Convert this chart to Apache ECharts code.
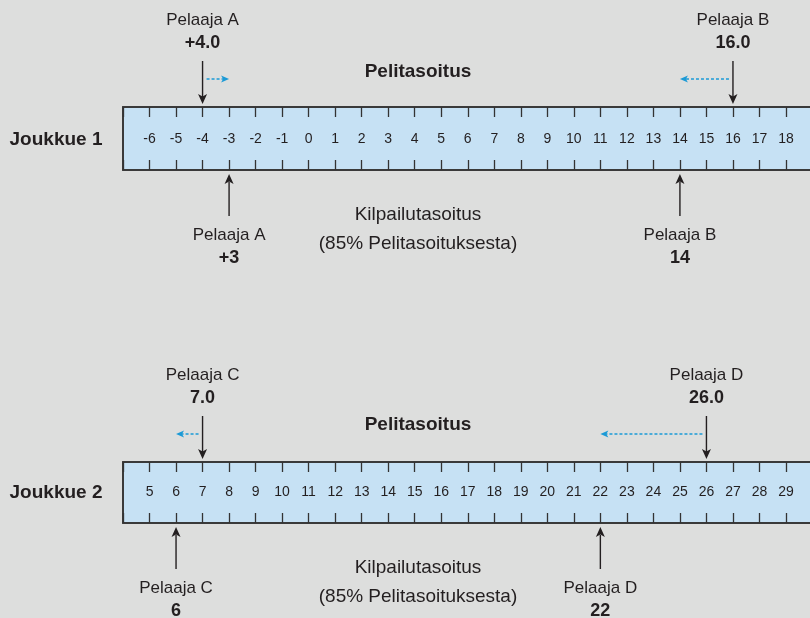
<!DOCTYPE html>
<html>
<head>
<meta charset="utf-8">
<script src="https://cdn.jsdelivr.net/npm/echarts@6/dist/echarts.min.js"></script>
<style>
html,body{margin:0;padding:0;background:#dddedd;overflow:hidden;width:810px;height:618px;}
#c{width:850px;height:618px;}
</style>
</head>
<body>
<div id="c"></div>
<script>
// ---- data ----
const teams = ['Joukkue 1', 'Joukkue 2'];
const axisMin = [-7, 4];
const axisMax = [20.3, 31.3];
const tickLabels1 = [-6,-5,-4,-3,-2,-1,0,1,2,3,4,5,6,7,8,9,10,11,12,13,14,15,16,17,18];
const tickLabels2 = [5,6,7,8,9,10,11,12,13,14,15,16,17,18,19,20,21,22,23,24,25,26,27,28,29];
const players1 = ['Pelaaja A', 'Pelaaja B'];
const players2 = ['Pelaaja C', 'Pelaaja D'];
const playingPos1 = [-4, 16];
const playingText1 = ['+4.0', '16.0'];
const compPos1 = [-3, 14];
const compText1 = ['+3', '14'];
const playingPos2 = [7, 26];
const playingText2 = ['7.0', '26.0'];
const compPos2 = [6, 22];
const compText2 = ['6', '22'];
const topTitle = 'Pelitasoitus';
const bottomTitle1 = 'Kilpailutasoitus';
const bottomTitle2 = '(85% Pelitasoituksesta)';

// ---- style ----
const FONT = '"Liberation Sans", Arial, sans-serif';
const TXT = '#231f20';
const BLUE = '#1b9ad6';
const BAND = '#c6e1f4';
const EDGE = '#3a3a3a';

const chart = echarts.init(document.getElementById('c'), null, {renderer: 'canvas'});

function topItem(names, texts) {
  return function (params, api) {
    const i = params.dataIndex;
    const p = api.coord([api.value(0), 1]);
    const x = p[0], yT = p[1];
    const xc = api.coord([api.value(1), 1])[0];
    const dir = xc > x ? 1 : -1;
    const yd = yT - 28;
    return {
      type: 'group',
      children: [
        {type: 'text', style: {x: x, y: yT - 87, text: names[i], font: '17px ' + FONT, fill: TXT, align: 'center', verticalAlign: 'middle'}},
        {type: 'text', style: {x: x, y: yT - 64, text: texts[i], font: 'bold 18px ' + FONT, fill: TXT, align: 'center', verticalAlign: 'middle'}},
        {type: 'line', shape: {x1: x, y1: yT - 46, x2: x, y2: yT - 10}, style: {stroke: TXT, lineWidth: 1.4}},
        {type: 'polygon', shape: {points: [[x, yT - 3], [x - 4.5, yT - 13], [x, yT - 10.5], [x + 4.5, yT - 13]]}, style: {fill: TXT}},
        {type: 'line', shape: {x1: x + dir * 4, y1: yd, x2: xc - dir * 5, y2: yd}, style: {stroke: BLUE, lineWidth: 1.3, lineDash: [3, 2]}},
        {type: 'polygon', shape: {points: [[xc, yd], [xc - dir * 8, yd - 3.5], [xc - dir * 6, yd], [xc - dir * 8, yd + 3.5]]}, style: {fill: BLUE}}
      ]
    };
  };
}
function bottomItem(names, texts) {
  return function (params, api) {
    const i = params.dataIndex;
    const p = api.coord([api.value(0), 0]);
    const x = p[0], yB = p[1];
    return {
      type: 'group',
      children: [
        {type: 'line', shape: {x1: x, y1: yB + 12, x2: x, y2: yB + 46}, style: {stroke: TXT, lineWidth: 1.4}},
        {type: 'polygon', shape: {points: [[x, yB + 4], [x - 4.5, yB + 14], [x, yB + 11.5], [x + 4.5, yB + 14]]}, style: {fill: TXT}},
        {type: 'text', style: {x: x, y: yB + 65, text: names[i], font: '17px ' + FONT, fill: TXT, align: 'center', verticalAlign: 'middle'}},
        {type: 'text', style: {x: x, y: yB + 88, text: texts[i], font: 'bold 18px ' + FONT, fill: TXT, align: 'center', verticalAlign: 'middle'}}
      ]
    };
  };
}

const grids = [
  {left: 123, top: 107, height: 63, right: 0},
  {left: 123, top: 462, height: 61, right: 0}
].map(g => Object.assign(g, {show: true, backgroundColor: BAND, borderWidth: 0}));

const labelSets = [tickLabels1, tickLabels2];
const xAxes = [];
[0, 1].forEach(gi => {
  ['top', 'bottom'].forEach(pos => {
    xAxes.push({
      type: 'value', gridIndex: gi, position: pos, min: axisMin[gi], max: axisMax[gi], interval: 1,
      axisLine: {show: true, onZero: false, lineStyle: {color: EDGE, width: 2}},
      axisTick: {show: true, inside: true, length: 10, lineStyle: {color: '#333', width: 1.3}},
      splitLine: {show: false},
      axisLabel: pos === 'top' ? {
        show: true, inside: true, margin: gi === 0 ? 32 : 30, verticalAlign: 'middle',
        color: TXT, fontSize: 14, fontFamily: FONT,
        formatter: v => labelSets[gi].includes(v) ? String(v) : ''
      } : {show: false}
    });
  });
});
const yAxes = [0, 1].map(gi => ({
  type: 'value', gridIndex: gi, min: 0, max: 1, position: 'left',
  axisLine: {show: true, onZero: false, lineStyle: {color: EDGE, width: 2}},
  axisTick: {show: false}, axisLabel: {show: false}, splitLine: {show: false}
}));

const option = {
  backgroundColor: '#dddedd',
  animation: false,
  grid: grids,
  xAxis: xAxes,
  yAxis: yAxes,
  series: [
    {type: 'custom', xAxisIndex: 0, yAxisIndex: 0, clip: false, data: playingPos1.map((v, i) => [v, compPos1[i]]), renderItem: topItem(players1, playingText1)},
    {type: 'custom', xAxisIndex: 0, yAxisIndex: 0, clip: false, data: compPos1.map(v => [v]), renderItem: bottomItem(players1, compText1)},
    {type: 'custom', xAxisIndex: 2, yAxisIndex: 1, clip: false, data: playingPos2.map((v, i) => [v, compPos2[i]]), renderItem: topItem(players2, playingText2)},
    {type: 'custom', xAxisIndex: 2, yAxisIndex: 1, clip: false, data: compPos2.map(v => [v]), renderItem: bottomItem(players2, compText2)}
  ],
  graphic: [
    {type: 'text', x: 56, y: 140, style: {text: teams[0], font: 'bold 19px ' + FONT, fill: TXT, align: 'center', verticalAlign: 'middle'}},
    {type: 'text', x: 56, y: 493, style: {text: teams[1], font: 'bold 19px ' + FONT, fill: TXT, align: 'center', verticalAlign: 'middle'}},
    {type: 'text', x: 418, y: 72, style: {text: topTitle, font: 'bold 19px ' + FONT, fill: TXT, align: 'center', verticalAlign: 'middle'}},
    {type: 'text', x: 418, y: 425, style: {text: topTitle, font: 'bold 19px ' + FONT, fill: TXT, align: 'center', verticalAlign: 'middle'}},
    {type: 'text', x: 418, y: 215, style: {text: bottomTitle1, font: '19px ' + FONT, fill: TXT, align: 'center', verticalAlign: 'middle'}},
    {type: 'text', x: 418, y: 244, style: {text: bottomTitle2, font: '19px ' + FONT, fill: TXT, align: 'center', verticalAlign: 'middle'}},
    {type: 'text', x: 418, y: 568, style: {text: bottomTitle1, font: '19px ' + FONT, fill: TXT, align: 'center', verticalAlign: 'middle'}},
    {type: 'text', x: 418, y: 597, style: {text: bottomTitle2, font: '19px ' + FONT, fill: TXT, align: 'center', verticalAlign: 'middle'}}
  ]
};
chart.setOption(option);
</script>
</body>
</html>
